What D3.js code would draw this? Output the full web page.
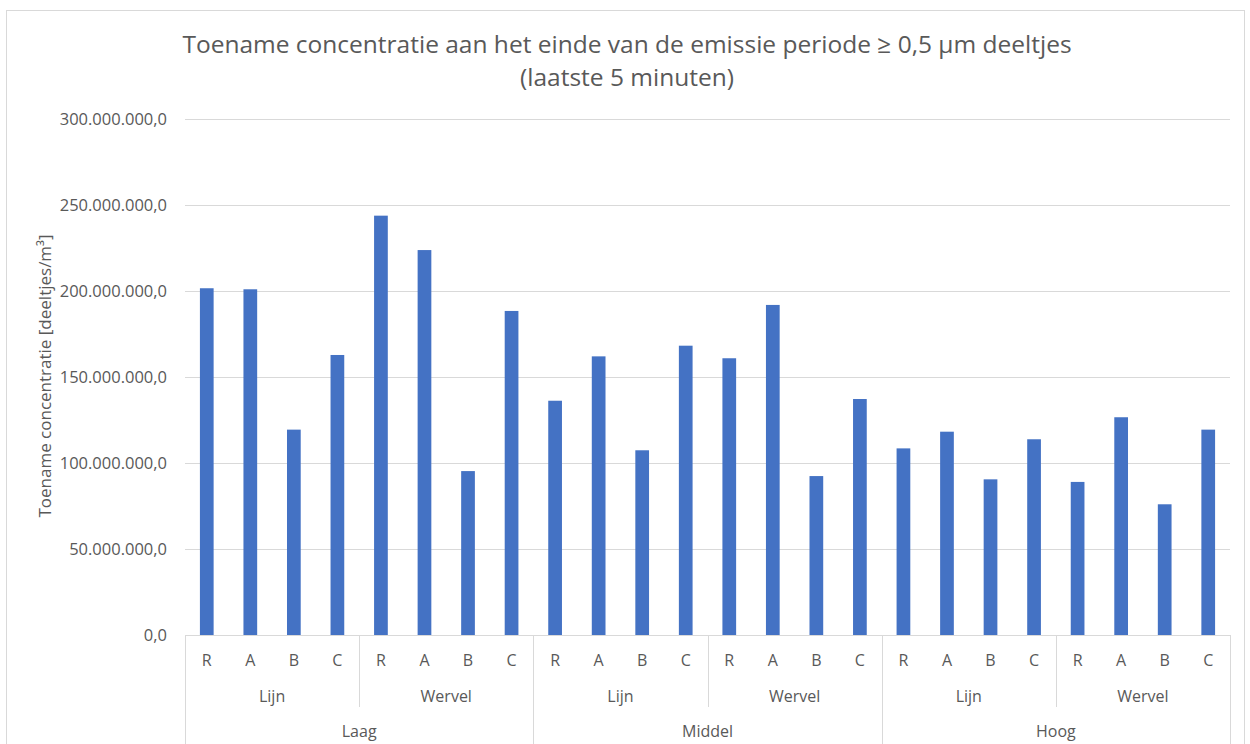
<!DOCTYPE html>
<html>
<head>
<meta charset="utf-8">
<script src="https://cdn.jsdelivr.net/npm/d3@7"></script>
<style>
  body { margin: 0; background: #fff; }
  text { font-family: "Open Sans", "Noto Sans", sans-serif; fill: #595959; }
</style>
</head>
<body>
<script>
var svgWidth = 1250;
var svgHeight = 744;

// data
var levels = ["Laag", "Middel", "Hoog"];
var types = ["Lijn", "Wervel"];
var variants = ["R", "A", "B", "C"];
var values = [
  201.6e6, 201.0e6, 119.4e6, 162.8e6,   // Laag Lijn
  243.8e6, 223.8e6, 95.3e6, 188.4e6,    // Laag Wervel
  136.2e6, 162.0e6, 107.4e6, 168.2e6,   // Middel Lijn
  160.9e6, 191.9e6, 92.4e6, 137.2e6,    // Middel Wervel
  108.5e6, 118.2e6, 90.5e6, 113.8e6,    // Hoog Lijn
  89.0e6, 126.6e6, 76.0e6, 119.4e6      // Hoog Wervel
];
var yTicks = [0, 50e6, 100e6, 150e6, 200e6, 250e6, 300e6];

var titleLines = ["Toename concentratie aan het einde van de emissie periode \u2265 0,5 \u00b5m deeltjes", "(laatste 5 minuten)"];
var yLabel = "Toename concentratie [deeltjes/m\u00b3]";

var margin = { top: 119, right: 20, bottom: 109, left: 185 };
var width = 1230 - margin.left;
var height = 635 - margin.top;

// build rows
var rows = [];
levels.forEach(function(l) {
  types.forEach(function(t) {
    variants.forEach(function(v) {
      rows.push({ level: l, type: t, variant: v, value: values[rows.length], key: l + "|" + t + "|" + v });
    });
  });
});

var nl = d3.formatLocale({ decimal: ",", thousands: ".", grouping: [3], currency: ["€", ""] });
var fmt = nl.format(",.1f");

var svg = d3.select("body")
  .append("svg")
  .attr("width", svgWidth)
  .attr("height", svgHeight);

// chart border
svg.append("rect")
  .attr("x", 6.5).attr("y", 10.5)
  .attr("width", 1238).attr("height", 760)
  .attr("fill", "none")
  .attr("stroke", "#d9d9d9");

var g = svg.append("g")
  .attr("transform", "translate(" + margin.left + "," + margin.top + ")");

var x = d3.scaleBand()
  .domain(rows.map(function(d) { return d.key; }))
  .range([0, width])
  .paddingInner(0.685)
  .paddingOuter(0.3425);

var y = d3.scaleLinear()
  .domain([0, 300e6])
  .range([height, 0]);

// gridlines
g.append("g")
  .attr("class", "grid")
  .call(d3.axisLeft(y).tickValues(yTicks).tickSize(-width).tickFormat(""))
  .call(function(s) {
    s.select(".domain").remove();
    s.selectAll("line").attr("stroke", "#d9d9d9").attr("stroke-width", 1);
  });

// y tick labels
g.append("g")
  .call(d3.axisLeft(y).tickValues(yTicks).tickSize(0).tickPadding(18).tickFormat(fmt))
  .call(function(s) {
    s.select(".domain").remove();
    s.selectAll("text").attr("font-size", "16.5px").attr("fill", "#595959")
      .attr("font-family", "'Open Sans', sans-serif");
  });

// bars
g.selectAll(".bar")
  .data(rows)
  .enter().append("rect")
  .attr("class", "bar")
  .attr("x", function(d) { return x(d.key); })
  .attr("width", x.bandwidth())
  .attr("y", function(d) { return y(d.value); })
  .attr("height", function(d) { return height - y(d.value); })
  .attr("fill", "#4472c4");

// multi-level category axis
var step = x.step();
var axisG = g.append("g").attr("transform", "translate(0," + height + ")");
axisG.append("line")
  .attr("x1", 0).attr("x2", width)
  .attr("y1", 0.5).attr("y2", 0.5)
  .attr("stroke", "#d9d9d9");

axisG.selectAll(".vlab")
  .data(rows)
  .enter().append("text")
  .attr("x", function(d) { return x(d.key) + x.bandwidth() / 2; })
  .attr("y", 31)
  .attr("text-anchor", "middle")
  .attr("font-size", "16px")
  .text(function(d) { return d.variant; });

// sub-group (type) labels and separators
var subGroups = [];
levels.forEach(function(l) {
  types.forEach(function(t) { subGroups.push({ level: l, type: t }); });
});
var subW = step * variants.length;
axisG.selectAll(".tlab")
  .data(subGroups)
  .enter().append("text")
  .attr("x", function(d, i) { return i * subW + subW / 2; })
  .attr("y", 67)
  .attr("text-anchor", "middle")
  .attr("font-size", "16px")
  .text(function(d) { return d.type; });

axisG.selectAll(".tsep")
  .data(d3.range(1, subGroups.length).filter(function(i) { return i % types.length !== 0; }))
  .enter().append("line")
  .attr("x1", function(i) { return Math.round(i * subW) + 0.5; })
  .attr("x2", function(i) { return Math.round(i * subW) + 0.5; })
  .attr("y1", 0).attr("y2", 72)
  .attr("stroke", "#d9d9d9");

var lvlW = subW * types.length;
axisG.selectAll(".llab")
  .data(levels)
  .enter().append("text")
  .attr("x", function(d, i) { return i * lvlW + lvlW / 2; })
  .attr("y", 102)
  .attr("text-anchor", "middle")
  .attr("font-size", "16px")
  .text(function(d) { return d; });

axisG.selectAll(".lsep")
  .data(d3.range(0, levels.length + 1))
  .enter().append("line")
  .attr("x1", function(i) { return Math.round(i * lvlW) + 0.5; })
  .attr("x2", function(i) { return Math.round(i * lvlW) + 0.5; })
  .attr("y1", 0).attr("y2", 120)
  .attr("stroke", "#d9d9d9");

// y axis title
svg.append("text")
  .attr("transform", "translate(51," + (margin.top + height / 2 - 1) + ") rotate(-90)")
  .attr("text-anchor", "middle")
  .attr("font-size", "17px")
  .text(yLabel);

// title
svg.selectAll(".title")
  .data(titleLines)
  .enter().append("text")
  .attr("x", 627)
  .attr("y", function(d, i) { return 53 + i * 33; })
  .attr("text-anchor", "middle")
  .attr("font-size", "24.5px")
  .text(function(d) { return d; });
</script>
</body>
</html>
